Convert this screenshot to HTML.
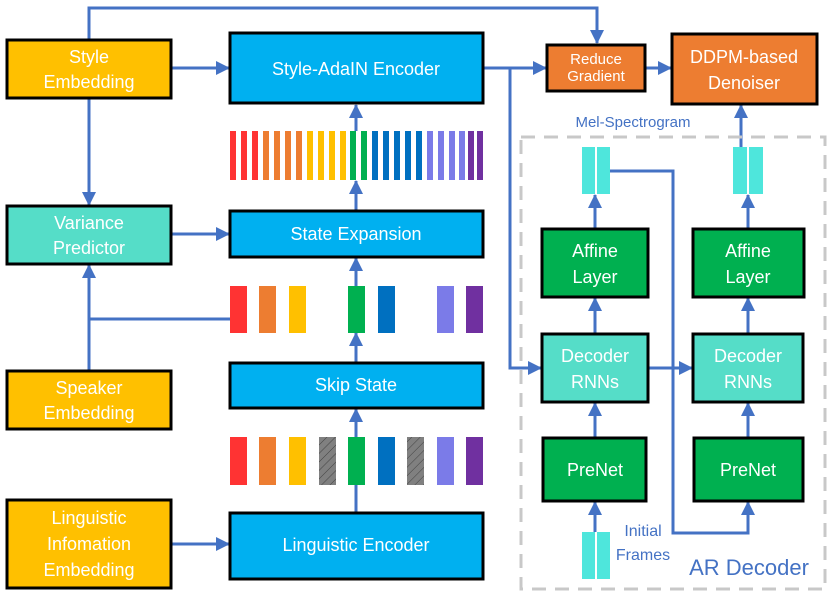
<!DOCTYPE html>
<html><head><meta charset="utf-8"><style>
body{margin:0;background:#fff}
svg text{font-family:"Liberation Sans",sans-serif;fill:#fff;text-anchor:middle}
</style></head><body>
<svg width="831" height="597" viewBox="0 0 831 597" xmlns="http://www.w3.org/2000/svg">
<defs>
<marker id="a" markerWidth="16" markerHeight="16" refX="13" refY="7" orient="auto" markerUnits="userSpaceOnUse"><path d="M0,0 L14,7 L0,14 z" fill="#4472C4"/></marker>
<pattern id="h" width="6" height="6" patternUnits="userSpaceOnUse" patternTransform="rotate(45)"><rect width="6" height="6" fill="#808080"/><line x1="0" y1="0" x2="0" y2="6" stroke="#444" stroke-width="1"/></pattern>
</defs>
<g fill="none" stroke="#4472C4" stroke-width="3">
<polyline points="89,39 89,8 597,8 597,43" marker-end="url(#a)"/>
<line x1="89" y1="98" x2="89" y2="205" marker-end="url(#a)"/>
<line x1="171" y1="68" x2="229" y2="68" marker-end="url(#a)"/>
<line x1="171" y1="234" x2="229" y2="234" marker-end="url(#a)"/>
<line x1="89" y1="370" x2="89" y2="265" marker-end="url(#a)"/>
<line x1="89" y1="319" x2="230" y2="319"/>
<line x1="171" y1="544" x2="229" y2="544" marker-end="url(#a)"/>
<line x1="356" y1="512" x2="356" y2="409" marker-end="url(#a)"/>
<line x1="356" y1="362" x2="356" y2="333" marker-end="url(#a)"/>
<line x1="356" y1="286" x2="356" y2="258" marker-end="url(#a)"/>
<line x1="356" y1="210" x2="356" y2="181" marker-end="url(#a)"/>
<line x1="356" y1="131" x2="356" y2="105" marker-end="url(#a)"/>
<polyline points="484,68 546,68" marker-end="url(#a)"/>
<polyline points="510,68 510,368 541,368" marker-end="url(#a)"/>
<line x1="646" y1="68" x2="671" y2="68" marker-end="url(#a)"/>
<line x1="648" y1="368" x2="692" y2="368" marker-end="url(#a)"/>
<polyline points="609,171 673,171 673,533 748,533 748,502" marker-end="url(#a)"/>
<line x1="595" y1="437" x2="595" y2="403" marker-end="url(#a)"/>
<line x1="748" y1="437" x2="748" y2="403" marker-end="url(#a)"/>
<line x1="595" y1="333" x2="595" y2="298" marker-end="url(#a)"/>
<line x1="748" y1="333" x2="748" y2="298" marker-end="url(#a)"/>
<line x1="595" y1="228" x2="595" y2="195" marker-end="url(#a)"/>
<line x1="748" y1="228" x2="748" y2="195" marker-end="url(#a)"/>
<line x1="741" y1="147" x2="741" y2="105" marker-end="url(#a)"/>
<line x1="595" y1="532" x2="595" y2="502" marker-end="url(#a)"/>
</g>
<rect x="521" y="137" width="304" height="452" fill="none" stroke="#C8C8C8" stroke-width="3" stroke-dasharray="14,9"/>
<g stroke="#000" stroke-width="3">
<rect x="7" y="40" width="164" height="58" fill="#FFC000"/>
<rect x="7" y="206" width="164" height="58" fill="#55DDC8"/>
<rect x="7" y="371" width="164" height="58" fill="#FFC000"/>
<rect x="7" y="500" width="164" height="88" fill="#FFC000"/>
<rect x="230" y="33" width="253" height="70" fill="#00B0F0"/>
<rect x="230" y="211" width="253" height="46" fill="#00B0F0"/>
<rect x="230" y="363" width="253" height="45" fill="#00B0F0"/>
<rect x="230" y="513" width="253" height="66" fill="#00B0F0"/>
<rect x="547" y="45" width="98" height="46" fill="#ED7D31"/>
<rect x="672" y="34" width="145" height="70" fill="#ED7D31"/>
<rect x="542" y="229" width="106" height="68" fill="#00B050"/>
<rect x="693" y="229" width="111" height="68" fill="#00B050"/>
<rect x="542" y="334" width="106" height="68" fill="#55DDC8"/>
<rect x="693" y="334" width="110" height="68" fill="#55DDC8"/>
<rect x="543" y="438" width="103" height="63" fill="#00B050"/>
<rect x="694" y="438" width="109" height="63" fill="#00B050"/>
</g>
<g fill="#4EE6DC">
<rect x="582" y="147" width="13" height="47"/><rect x="597" y="147" width="13" height="47"/>
<rect x="733" y="147" width="14" height="47"/><rect x="749" y="147" width="14" height="47"/>
<rect x="582" y="532" width="13" height="47"/><rect x="597" y="532" width="13" height="47"/>
</g>
<g>
<rect x="230" y="131" width="6" height="49" fill="#FF3333"/><rect x="241" y="131" width="6" height="49" fill="#FF3333"/><rect x="252" y="131" width="6" height="49" fill="#FF3333"/>
<rect x="263" y="131" width="6" height="49" fill="#ED7D31"/><rect x="274" y="131" width="6" height="49" fill="#ED7D31"/><rect x="285" y="131" width="6" height="49" fill="#ED7D31"/><rect x="296" y="131" width="6" height="49" fill="#ED7D31"/>
<rect x="307" y="131" width="6" height="49" fill="#FFC000"/><rect x="318" y="131" width="6" height="49" fill="#FFC000"/><rect x="329" y="131" width="6" height="49" fill="#FFC000"/><rect x="340" y="131" width="6" height="49" fill="#FFC000"/>
<rect x="350" y="131" width="6" height="49" fill="#00B050"/><rect x="361" y="131" width="6" height="49" fill="#00B050"/>
<rect x="372" y="131" width="6" height="49" fill="#0070C0"/><rect x="383" y="131" width="6" height="49" fill="#0070C0"/><rect x="394" y="131" width="6" height="49" fill="#0070C0"/><rect x="405" y="131" width="6" height="49" fill="#0070C0"/><rect x="416" y="131" width="6" height="49" fill="#0070C0"/>
<rect x="427" y="131" width="6" height="49" fill="#7B7BE8"/><rect x="438" y="131" width="6" height="49" fill="#7B7BE8"/><rect x="449" y="131" width="6" height="49" fill="#7B7BE8"/><rect x="459" y="131" width="6" height="49" fill="#7B7BE8"/>
<rect x="468" y="131" width="6" height="49" fill="#7030A0"/><rect x="477" y="131" width="6" height="49" fill="#7030A0"/>
</g>
<g>
<rect x="230" y="286" width="17" height="47" fill="#FF3333"/><rect x="259" y="286" width="17" height="47" fill="#ED7D31"/><rect x="289" y="286" width="17" height="47" fill="#FFC000"/><rect x="348" y="286" width="17" height="47" fill="#00B050"/><rect x="378" y="286" width="17" height="47" fill="#0070C0"/><rect x="437" y="286" width="17" height="47" fill="#7B7BE8"/><rect x="466" y="286" width="17" height="47" fill="#7030A0"/>
<rect x="230" y="437" width="17" height="48" fill="#FF3333"/><rect x="259" y="437" width="17" height="48" fill="#ED7D31"/><rect x="289" y="437" width="17" height="48" fill="#FFC000"/><rect x="319" y="437" width="17" height="48" fill="url(#h)"/><rect x="348" y="437" width="17" height="48" fill="#00B050"/><rect x="378" y="437" width="17" height="48" fill="#0070C0"/><rect x="407" y="437" width="17" height="48" fill="url(#h)"/><rect x="437" y="437" width="17" height="48" fill="#7B7BE8"/><rect x="466" y="437" width="17" height="48" fill="#7030A0"/>
</g>
<g font-size="18">
<text x="89" y="63">Style</text><text x="89" y="88">Embedding</text>
<text x="89" y="229">Variance</text><text x="89" y="254">Predictor</text>
<text x="89" y="394">Speaker</text><text x="89" y="419">Embedding</text>
<text x="89" y="524">Linguistic</text><text x="89" y="550">Infomation</text><text x="89" y="576">Embedding</text>
<text x="356" y="75">Style-AdaIN Encoder</text>
<text x="356" y="240">State Expansion</text>
<text x="356" y="391">Skip State</text>
<text x="356" y="551">Linguistic Encoder</text>
<text x="595" y="257">Affine</text><text x="595" y="283">Layer</text>
<text x="748" y="257">Affine</text><text x="748" y="283">Layer</text>
<text x="595" y="362">Decoder</text><text x="595" y="388">RNNs</text>
<text x="748" y="362">Decoder</text><text x="748" y="388">RNNs</text>
<text x="595" y="476">PreNet</text><text x="748" y="476">PreNet</text>
<text x="744" y="63">DDPM-based</text><text x="744" y="89">Denoiser</text>
</g>
<g font-size="15"><text x="596" y="64">Reduce</text><text x="596" y="81">Gradient</text></g>
<text x="633" y="127" font-size="15" style="fill:#4472C4">Mel-Spectrogram</text>
<text x="643" y="536" font-size="16" style="fill:#4472C4">Initial</text>
<text x="643" y="560" font-size="16" style="fill:#4472C4">Frames</text>
<text x="749" y="575" font-size="22" style="fill:#4472C4">AR Decoder</text>
</svg>
</body></html>
